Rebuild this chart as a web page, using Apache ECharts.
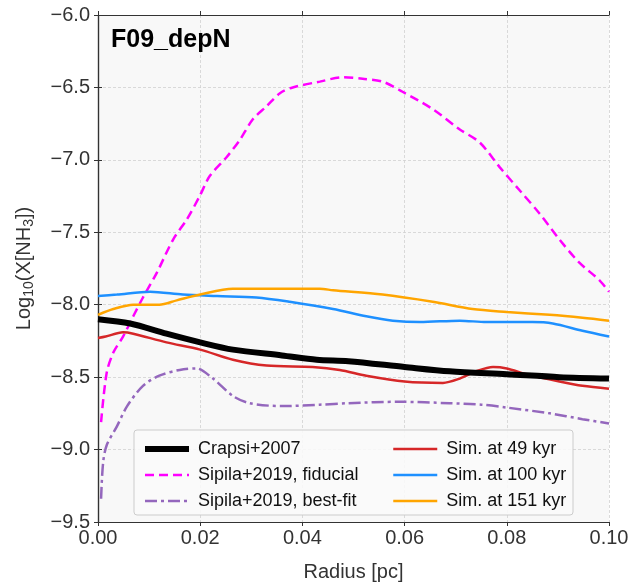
<!DOCTYPE html>
<html>
<head>
<meta charset="utf-8">
<script src="https://cdn.jsdelivr.net/npm/echarts@6/dist/echarts.min.js"></script>
<style>
  html, body { margin: 0; padding: 0; background: #fff; }
  #main { width: 632px; height: 587px; }
</style>
</head>
<body>
<div id="main"></div>
<script>
// radius [pc] and log10 abundance
var crapsiR = [0.000, 0.0063, 0.0134, 0.020, 0.0264, 0.036, 0.0428, 0.049, 0.060, 0.0688, 0.080, 0.0903, 0.100];
var crapsiY = [-8.10, -8.13, -8.20, -8.26, -8.31, -8.35, -8.38, -8.39, -8.43, -8.46, -8.48, -8.50, -8.51];

var fidR = [0.0006, 0.0017, 0.003, 0.0049, 0.0069, 0.0088, 0.0115, 0.0147, 0.0174, 0.0199, 0.0219, 0.0252, 0.0278, 0.0303, 0.033, 0.0356, 0.0381, 0.0434, 0.0479, 0.0518, 0.0557, 0.0596, 0.0655, 0.0708, 0.0747, 0.0786, 0.0825, 0.0864, 0.0903, 0.0942, 0.0981, 0.100];
var fidY = [-8.81, -8.47, -8.33, -8.22, -8.08, -7.95, -7.78, -7.55, -7.41, -7.25, -7.11, -6.98, -6.86, -6.72, -6.63, -6.54, -6.50, -6.46, -6.43, -6.44, -6.46, -6.53, -6.65, -6.79, -6.88, -7.05, -7.21, -7.37, -7.55, -7.71, -7.83, -7.91];

var bestR = [0.0006, 0.0010, 0.0017, 0.0037, 0.0057, 0.0088, 0.012, 0.016, 0.0193, 0.0225, 0.0264, 0.0297, 0.036, 0.0434, 0.049, 0.059, 0.0688, 0.075, 0.080, 0.0884, 0.0948, 0.100];
var bestY = [-9.34, -9.09, -8.97, -8.84, -8.70, -8.56, -8.49, -8.45, -8.44, -8.51, -8.63, -8.68, -8.70, -8.69, -8.68, -8.67, -8.68, -8.69, -8.71, -8.75, -8.79, -8.82];

var sim49R = [0.000, 0.0015, 0.0049, 0.0069, 0.0134, 0.020, 0.0264, 0.033, 0.042, 0.0473, 0.0525, 0.060, 0.0675, 0.0708, 0.074, 0.0773, 0.080, 0.0839, 0.0903, 0.0948, 0.100];
var sim49Y = [-8.23, -8.22, -8.19, -8.20, -8.26, -8.31, -8.38, -8.42, -8.43, -8.45, -8.49, -8.53, -8.54, -8.51, -8.46, -8.43, -8.44, -8.48, -8.53, -8.56, -8.58];

var sim100R = [0.000, 0.0037, 0.0102, 0.0166, 0.0233, 0.031, 0.0375, 0.046, 0.0525, 0.0577, 0.063, 0.0708, 0.076, 0.080, 0.085, 0.089, 0.0948, 0.100];
var sim100Y = [-7.94, -7.93, -7.91, -7.93, -7.94, -7.95, -7.98, -8.03, -8.08, -8.11, -8.12, -8.11, -8.12, -8.12, -8.12, -8.13, -8.18, -8.22];

var sim151R = [0.000, 0.003, 0.0069, 0.012, 0.0154, 0.020, 0.0264, 0.033, 0.0434, 0.046, 0.0557, 0.0655, 0.0733, 0.080, 0.0884, 0.0948, 0.100];
var sim151Y = [-8.07, -8.03, -8.00, -8.00, -7.97, -7.93, -7.89, -7.89, -7.89, -7.90, -7.93, -7.98, -8.03, -8.05, -8.07, -8.09, -8.11];

var xTicks = [0.00, 0.02, 0.04, 0.06, 0.08, 0.10];
var yTicks = [-6.0, -6.5, -7.0, -7.5, -8.0, -8.5, -9.0, -9.5];

function pairs(xs, ys) {
    return xs.map(function (x, i) { return [x, ys[i]]; });
}
function minus(s) { return String(s).replace('-', '\u2212'); }

var font = 'Liberation Sans, Arial, sans-serif';
var myChart = echarts.init(document.getElementById('main'));

var gridLine = { show: true, lineStyle: { color: '#d0d0d0', type: [3, 2], width: 0.8 } };
var axisLine = { show: true, lineStyle: { color: '#333', width: 1.2 } };
var legendBase = {
    orient: 'vertical', top: 435, itemGap: 8, itemWidth: 44, itemHeight: 18, z: 20,
    textStyle: { fontFamily: font, fontSize: 18, color: '#111', padding: [0, 0, 0, 4] },
    itemStyle: { opacity: 0 }
};
function legendItem(name, w) {
    return { name: name, lineStyle: { width: w } };
}

var option = {
    animation: false,
    backgroundColor: '#fff',
    textStyle: { fontFamily: font },
    grid: { left: 98, right: 23, top: 15, bottom: 64, show: true, backgroundColor: '#f8f8f8', borderWidth: 0 },
    title: {
        text: 'F09_depN', left: 106, top: 23,
        textStyle: { fontFamily: font, fontSize: 25, fontWeight: 'bold', color: '#000' }
    },
    xAxis: [{
        type: 'value', min: 0, max: 0.1, interval: 0.02,
        name: 'Radius [pc]', nameLocation: 'middle', nameGap: 40,
        nameTextStyle: { fontFamily: font, fontSize: 20, color: '#333' },
        axisLine: axisLine,
        axisTick: { show: true, length: 4, lineStyle: { color: '#333' } },
        axisLabel: { fontFamily: font, fontSize: 20, color: '#333', margin: 6,
            formatter: function (v) { return v.toFixed(2); } },
        splitLine: gridLine
    }, {
        type: 'value', position: 'top', min: 0, max: 0.1, interval: 0.02,
        axisLine: axisLine,
        axisTick: { show: true, length: 4, lineStyle: { color: '#333' } },
        axisLabel: { show: false }, splitLine: { show: false }
    }],
    yAxis: [{
        type: 'value', min: -9.5, max: -6.0, interval: 0.5,
        name: 'Log{sub|10}(X[NH{sub|3}])', nameLocation: 'middle', nameGap: 62, nameRotate: 90,
        nameTextStyle: { fontFamily: font, fontSize: 20, color: '#333',
            rich: {
                sub: { fontFamily: font, fontSize: 14, color: '#333', padding: [10, 0, 0, 0] }
            } },
        axisLine: axisLine,
        axisTick: { show: true, length: 4, lineStyle: { color: '#333' } },
        axisLabel: { fontFamily: font, fontSize: 20, color: '#333', margin: 8,
            formatter: function (v) { return minus(v.toFixed(1)); } },
        splitLine: gridLine
    }, {
        type: 'value', position: 'right', min: -9.5, max: -6.0, interval: 0.5,
        axisLine: axisLine,
        axisTick: { show: true, length: 4, lineStyle: { color: '#333' } },
        axisLabel: { show: false }, splitLine: { show: false }
    }],
    legend: [
        echarts.util.merge({ left: 137, data: [
            legendItem('Crapsi+2007', 6),
            legendItem('Sipila+2019, fiducial', 2.5),
            legendItem('Sipila+2019, best-fit', 2.5)] }, legendBase),
        echarts.util.merge({ left: 387, data: [
            legendItem('Sim. at 49 kyr', 2.5),
            legendItem('Sim. at 100 kyr', 2.5),
            legendItem('Sim. at 151 kyr', 2.5)] }, legendBase)
    ],
    graphic: [{
        type: 'rect', z: 5,
        shape: { x: 134, y: 430, width: 439, height: 85, r: 3 },
        style: { fill: 'rgba(250,250,250,0.85)', stroke: '#ccc', lineWidth: 1 }
    }],
    series: [{
        name: 'Sipila+2019, fiducial', type: 'line', showSymbol: false, symbol: 'none',
        smooth: 0.3, data: pairs(fidR, fidY),
        lineStyle: { color: '#ff00ff', width: 2.5, type: [9, 5] }, itemStyle: { color: '#ff00ff' }
    }, {
        name: 'Sipila+2019, best-fit', type: 'line', showSymbol: false, symbol: 'none',
        smooth: 0.3, data: pairs(bestR, bestY),
        lineStyle: { color: '#9467bd', width: 2.5, type: [12, 4, 3, 4] }, itemStyle: { color: '#9467bd' }
    }, {
        name: 'Sim. at 49 kyr', type: 'line', showSymbol: false, symbol: 'none',
        smooth: 0.3, data: pairs(sim49R, sim49Y),
        lineStyle: { color: '#d62728', width: 2.5 }, itemStyle: { color: '#d62728' }
    }, {
        name: 'Sim. at 100 kyr', type: 'line', showSymbol: false, symbol: 'none',
        smooth: 0.3, data: pairs(sim100R, sim100Y),
        lineStyle: { color: '#1e90ff', width: 2.5 }, itemStyle: { color: '#1e90ff' }
    }, {
        name: 'Sim. at 151 kyr', type: 'line', showSymbol: false, symbol: 'none',
        smooth: 0.3, data: pairs(sim151R, sim151Y),
        lineStyle: { color: '#ffa500', width: 2.5 }, itemStyle: { color: '#ffa500' }
    }, {
        name: 'Crapsi+2007', type: 'line', showSymbol: false, symbol: 'none',
        smooth: 0.3, data: pairs(crapsiR, crapsiY),
        lineStyle: { color: '#000', width: 6 }, itemStyle: { color: '#000' }
    }]
};
myChart.setOption(option);
window.onresize = myChart.resize;
</script>
</body>
</html>
